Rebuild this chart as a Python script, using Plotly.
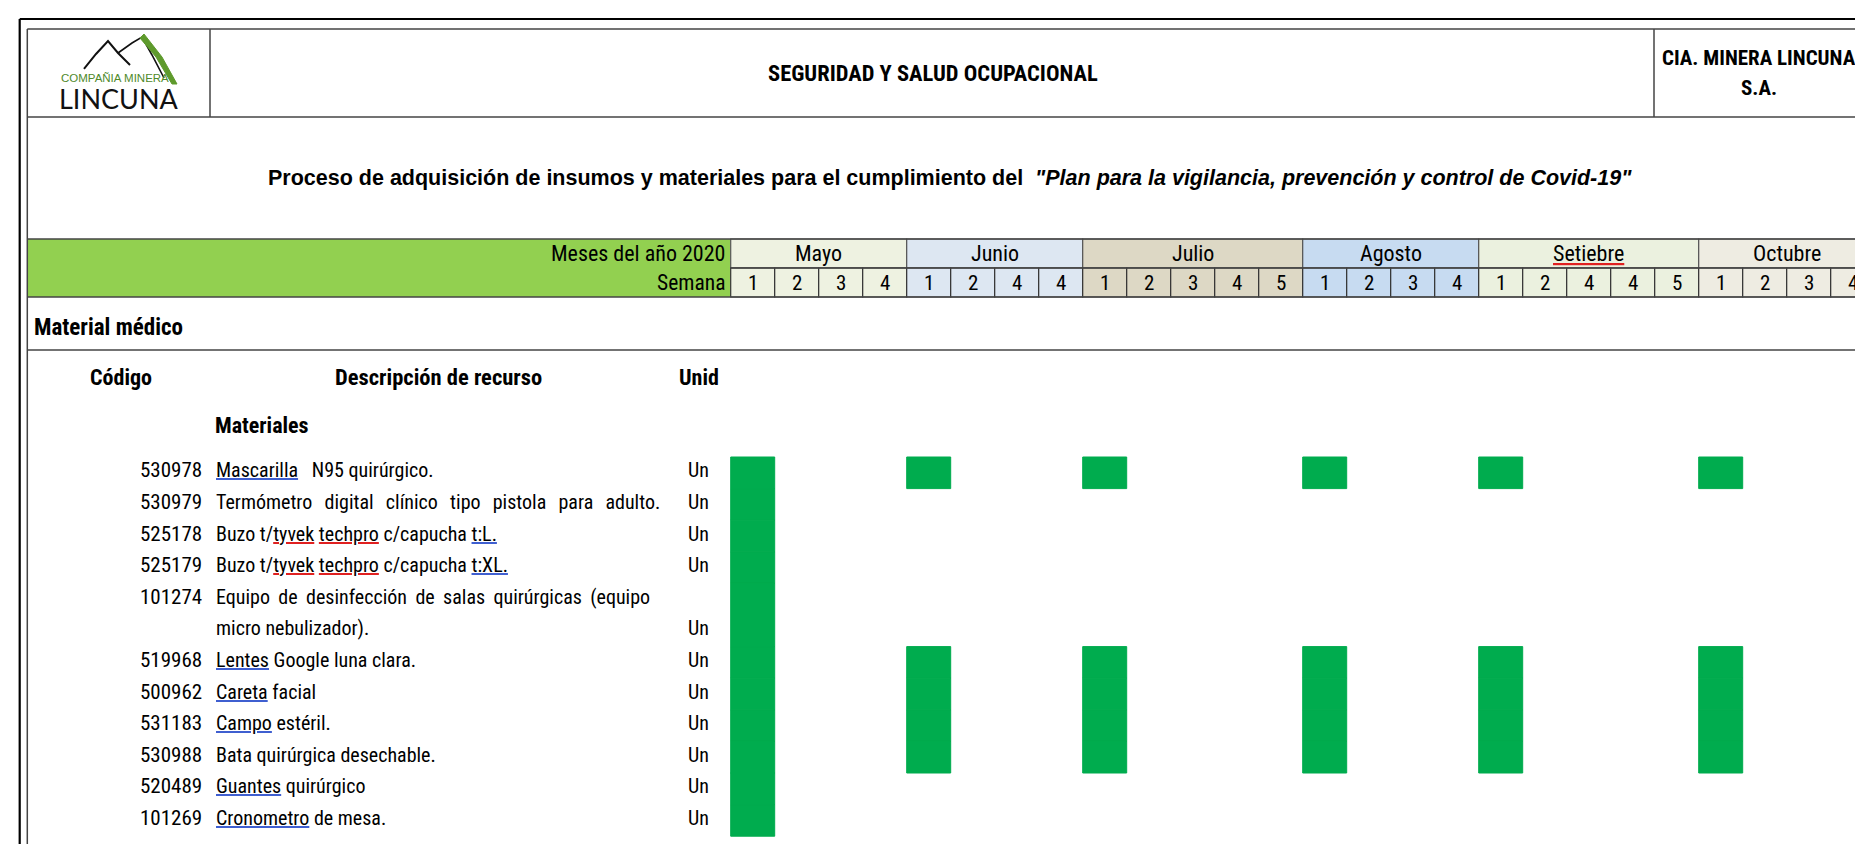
import plotly.graph_objects as go

W, H = 1863, 844

# ---------------- data ----------------
months = ["Mayo", "Junio", "Julio", "Agosto", "Setiebre", "Octubre"]
weeks_per_month = [4, 4, 5, 4, 5, 4]
week_labels = ["1", "2", "3", "4",
               "1", "2", "4", "4",
               "1", "2", "3", "4", "5",
               "1", "2", "3", "4",
               "1", "2", "4", "4", "5",
               "1", "2", "3", "4"]
month_colors = ["#EEF2E1", "#DDE7F2", "#DDD8C5", "#C7DBF1", "#EBF1DF", "#EEECE2"]

codes = ["530978", "530979", "525178", "525179", "101274", "519968",
         "500962", "531183", "530988", "520489", "101269"]
descriptions = [
    "Mascarilla  N95 quirúrgico.",
    "Termómetro digital clínico tipo pistola para adulto.",
    "Buzo t/tyvek techpro c/capucha t:L.",
    "Buzo t/tyvek techpro c/capucha t:XL.",
    "Equipo de desinfección de salas quirúrgicas (equipo|micro nebulizador).",
    "Lentes Google luna clara.",
    "Careta facial",
    "Campo estéril.",
    "Bata quirúrgica desechable.",
    "Guantes quirúrgico",
    "Cronometro de mesa.",
]
units = ["Un", "Un", "Un", "Un", "Un", "Un", "Un", "Un", "Un", "Un", "Un"]
item_lines = [1, 1, 1, 1, 2, 1, 1, 1, 1, 1, 1]

monthly = [("Mayo", 1), ("Junio", 1), ("Julio", 1), ("Agosto", 1), ("Setiebre", 1), ("Octubre", 1)]
first_only = [("Mayo", 1)]
deliveries = [monthly, first_only, first_only, first_only, first_only,
              monthly, monthly, monthly, monthly, first_only, first_only]

grammar_marked = ["Mascarilla", "t:L.", "t:XL.", "Lentes", "Careta", "Campo", "Guantes", "Cronometro"]
spell_marked = ["tyvek", "techpro", "Setiebre"]

# extra word spacing used by the justified lines of the source document
justify_gap = {"Termómetro digital clínico tipo pistola para adulto.": "&#8201;&#8201;",
               "Equipo de desinfección de salas quirúrgicas (equipo": "&#8201;"}

# ---------------- geometry helpers ----------------
X0_PX = 722.7      # left edge of first week column
WEEK_PX = 44.0
Y0_PX = 464.8      # center of first item line
LINE_PX = 31.6


def px(x):
    return x / W


def py(y):
    return 1 - y / H


NARROW = "Roboto Condensed, Liberation Sans Narrow, Arial Narrow, Liberation Sans, sans-serif"
ARIAL = "Liberation Sans, Arial, sans-serif"


def deco(word, color):
    return ('<span style="text-decoration:underline;fill:' + color + '">'
            '<span style="fill:#000000">' + word + '</span></span>')


def mark(text):
    gap = " " + justify_gap.get(text, "")
    out = []
    for word in text.split(" "):
        w = word
        if w == "":
            w = "&nbsp;"
        elif w in grammar_marked:
            w = deco(w, "#3F5FD0")
        else:
            for s in spell_marked:
                if s in w:
                    w = w.replace(s, deco(s, "#E02020"))
        out.append(w)
    return gap.join(out)


fig = go.Figure()

# ---------------- bars (Gantt) ----------------
month_start = {}
acc = 0
for m, n in zip(months, weeks_per_month):
    month_start[m] = acc
    acc += n

bar_y, bar_base, bar_len, bar_w = [], [], [], []
line = 0
line_start = []
for i, code in enumerate(codes):
    line_start.append(line)
    for (m, wk) in deliveries[i]:
        bar_y.append(line + (item_lines[i] - 1) / 2)
        bar_base.append(month_start[m] + wk - 1)
        bar_len.append(1)
        bar_w.append(item_lines[i])
    line += item_lines[i]

fig.add_trace(go.Bar(
    orientation="h", y=bar_y, x=bar_len, base=bar_base, width=bar_w,
    marker=dict(color="#00AC4E", line=dict(width=1, color="#00AC4E")),
    hoverinfo="skip", showlegend=False,
))

shapes = []
ann = []


def hline(y, x0=19.3, x1=W, color="#444444", width=1.5):
    shapes.append(dict(type="line", xref="paper", yref="paper", x0=px(x0), x1=px(x1),
                       y0=py(y), y1=py(y), line=dict(color=color, width=width)))


def vline(x, y0, y1, color="#444444", width=1.5):
    shapes.append(dict(type="line", xref="paper", yref="paper", x0=px(x), x1=px(x),
                       y0=py(y0), y1=py(y1), line=dict(color=color, width=width)))


def text(t, x, y, size=19, family=NARROW, anchor="center", color="#000000"):
    ann.append(dict(text=t, xref="paper", yref="paper", x=px(x), y=py(y), xanchor=anchor,
                    yanchor="middle", showarrow=False, font=dict(size=size, family=family, color=color)))


# green band
shapes.append(dict(type="rect", xref="paper", yref="paper", x0=px(19.3), x1=px(X0_PX),
                   y0=py(231), y1=py(289), fillcolor="#92D050", line=dict(width=0), layer="below"))

# month / week cells
for mi, m in enumerate(months):
    s = month_start[m]
    n = weeks_per_month[mi]
    shapes.append(dict(type="rect", xref="x", yref="paper", x0=s, x1=s + n, y0=py(231), y1=py(260),
                       fillcolor=month_colors[mi], line=dict(color="#555555", width=1.2), layer="below"))
    ann.append(dict(text=mark(m), xref="x", yref="paper", x=s + n / 2, y=py(245.5), showarrow=False,
                    xanchor="center", yanchor="middle", font=dict(size=22, family=NARROW, color="#000")))
    for k in range(n):
        shapes.append(dict(type="rect", xref="x", yref="paper", x0=s + k, x1=s + k + 1, y0=py(260), y1=py(289),
                           fillcolor=month_colors[mi], line=dict(color="#333333", width=1.2), layer="below"))
        ann.append(dict(text=week_labels[s + k], xref="x", yref="paper", x=s + k + 0.5, y=py(274.5),
                        showarrow=False, xanchor="center", yanchor="middle",
                        font=dict(size=21, family=NARROW, color="#000")))

# frame lines
hline(11, x0=11.7, color="#000000", width=2.2)
vline(11.7, 11, H, color="#000000", width=2.2)
hline(21)
vline(19.3, 21, H)
hline(109)
vline(202, 21, 109)
vline(1646, 21, 109)
hline(231)
hline(260, x0=X0_PX)
hline(289)
hline(342)
hline(838, color="#666666", width=1.5)
hline(841.5, color="#888888", width=1.2)

# header texts
text("<b>SEGURIDAD Y SALUD OCUPACIONAL</b>", 925, 65, size=22.5)
text("<b>CIA. MINERA LINCUNA</b>", 1751, 50, size=21)
text("<b>S.A.</b>", 1751, 80, size=21)
text('<b>Proceso de adquisición de insumos y materiales para el cumplimiento del  '
     '<i>"Plan para la vigilancia, prevención y control de Covid-19"</i></b>',
     942, 170, size=21.5, family=ARIAL)
text("Meses del año 2020", 719, 245.5, size=22, anchor="right")
text("Semana", 719, 274.5, size=21.5, anchor="right")
text("<b>Material médico</b>", 24, 320, size=23, anchor="left")
text("<b>Código</b>", 113, 369, size=22)
text("<b>Descripción de recurso</b>", 430, 369, size=22.5)
text("<b>Unid</b>", 691, 369, size=22)
text("<b>Materiales</b>", 254, 417, size=22)


# logo
def path(pts, close=False):
    d = "M " + " L ".join(f"{px(x):.5f},{py(y):.5f}" for x, y in pts)
    return d + (" Z" if close else "")


shapes.append(dict(type="path", xref="paper", yref="paper",
                   path=path([(76, 61), (88, 46), (100, 33), (110, 45), (122, 57)]),
                   line=dict(color="#111111", width=2)))
shapes.append(dict(type="path", xref="paper", yref="paper",
                   path=path([(110, 45), (124, 35), (134, 29), (144, 47), (156, 70)]),
                   line=dict(color="#111111", width=1.6)))
shapes.append(dict(type="path", xref="paper", yref="paper",
                   path=path([(132, 30), (136, 26), (154, 49), (169, 76), (164, 76), (148, 49)], close=True),
                   fillcolor="#5E9A2C", line=dict(color="#5E9A2C", width=1)))
text("COMPAÑIA MINERA", 107, 70, size=11.5, family=ARIAL, color="#4F8A2A")
text("LINCUNA", 111, 90, size=27, family="Lato, Liberation Sans, sans-serif", color="#111111")

# item rows
for i, code in enumerate(codes):
    l0 = line_start[i]
    parts = descriptions[i].split("|")
    ann.append(dict(text=code, xref="paper", yref="y", x=px(196), y=l0, yshift=2.4,
                    xanchor="right", yanchor="middle", showarrow=False,
                    font=dict(size=21, family=NARROW, color="#000")))
    for k, p in enumerate(parts):
        ann.append(dict(text=mark(p), xref="paper", yref="y", x=px(206), y=l0 + k, yshift=2.4,
                        xanchor="left", yanchor="middle", showarrow=False,
                        font=dict(size=20, family=NARROW, color="#000")))
    ann.append(dict(text=units[i], xref="paper", yref="y", x=px(678), y=l0 + item_lines[i] - 1, yshift=2.4,
                    xanchor="left", yanchor="middle", showarrow=False,
                    font=dict(size=20, family=NARROW, color="#000")))

fig.update_layout(
    width=W, height=H, margin=dict(l=0, r=0, t=0, b=0),
    paper_bgcolor="white", plot_bgcolor="white",
    xaxis=dict(domain=[0, 1], range=[-X0_PX / WEEK_PX, (W - X0_PX) / WEEK_PX],
               visible=False, fixedrange=True),
    yaxis=dict(domain=[0, 1], range=[(H - Y0_PX) / LINE_PX, -Y0_PX / LINE_PX],
               visible=False, fixedrange=True),
    shapes=shapes, annotations=ann, barmode="overlay",
)

fig.write_html("out.html")
